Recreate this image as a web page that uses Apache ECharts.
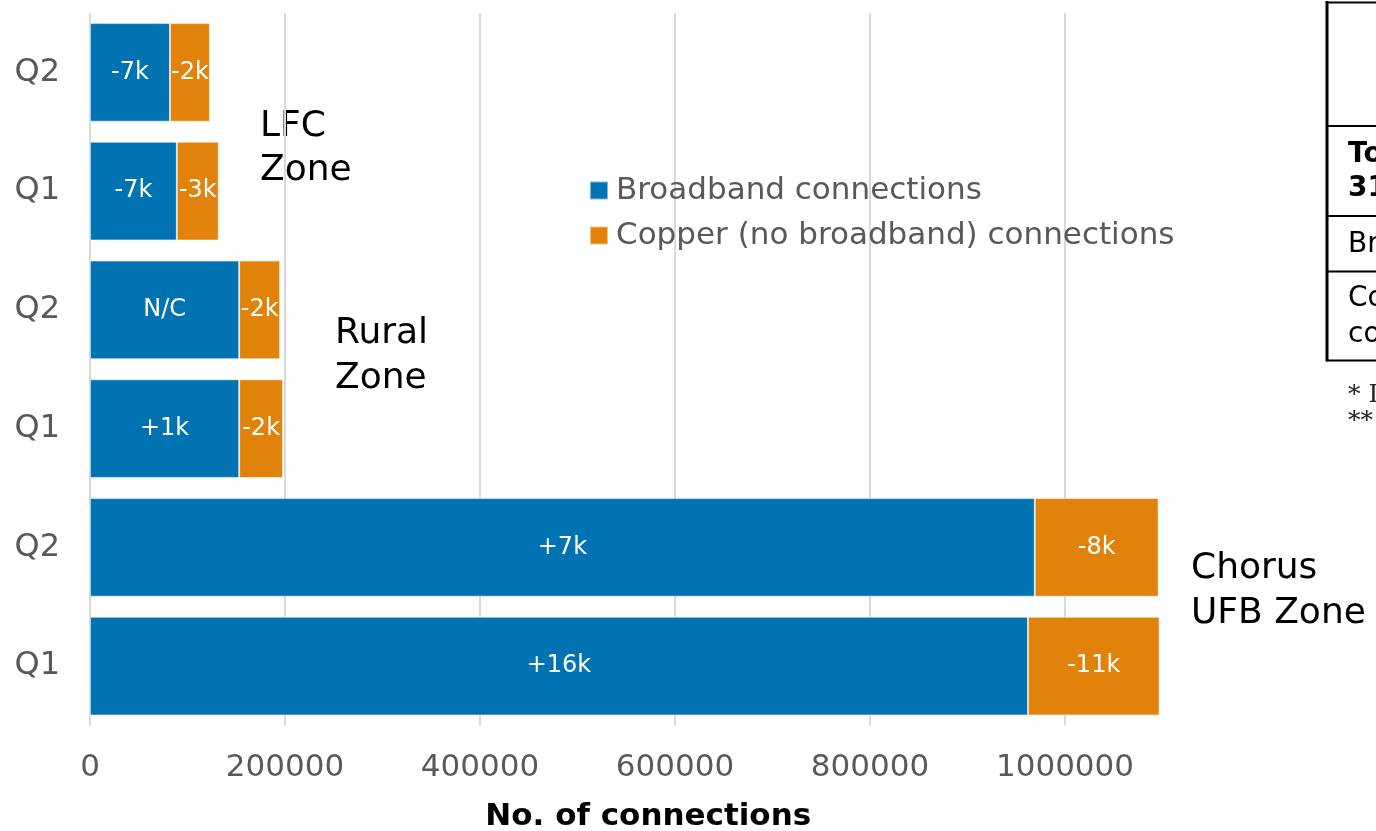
<!DOCTYPE html>
<html>
<head>
<meta charset="utf-8">
<title>Connections by zone</title>
<script src="https://cdn.jsdelivr.net/npm/echarts@6/dist/echarts.min.js"></script>
<style>
  html, body { margin: 0; padding: 0; background: #fff; }
  #chart { width: 1376px; height: 831px; }
</style>
</head>
<body>
<div id="chart"></div>
<script>
// rows listed top to bottom
const zones = ['LFC', 'LFC', 'Rural', 'Rural', 'Chorus', 'Chorus']
const quarters = ['Q2', 'Q1', 'Q2', 'Q1', 'Q2', 'Q1']
const broadband = [82000, 89000, 153000, 153000, 969000, 962000]
const copper = [41000, 43000, 42000, 45000, 127000, 135000]
const broadbandChange = ['-7k', '-7k', 'N/C', '+1k', '+7k', '+16k']
const copperChange = ['-2k', '-3k', '-2k', '-2k', '-8k', '-11k']
const xTicks = [0, 200000, 400000, 600000, 800000, 1000000]

const categories = zones.map((z, i) => z + ' ' + quarters[i])

const FONT = 'DejaVu Sans'
const BLUE = '#0173b2'
const ORANGE = '#e1820b'

const chart = echarts.init(document.getElementById('chart'))

function zoneText(text, x, y, lh) {
  return {
    type: 'text',
    x, y,
    style: {
      text,
      font: '36px "DejaVu Sans"',
      fill: '#000',
      lineHeight: lh,
      verticalAlign: 'middle'
    }
  }
}

function hLine(y) {
  return {
    type: 'line',
    shape: { x1: 1327, y1: y, x2: 1400, y2: y },
    style: { stroke: '#000', lineWidth: 2 }
  }
}

function cellText(text, y, bold) {
  return {
    type: 'text',
    x: 1348, y,
    style: {
      text,
      font: (bold ? 'bold ' : '') + '28px "DejaVu Sans"',
      fill: '#000',
      verticalAlign: 'middle'
    }
  }
}

chart.setOption({
  animation: false,
  textStyle: { fontFamily: FONT },
  grid: { left: 90, top: 13, right: 213.5, bottom: 105.5, outerBoundsMode: 'none' },
  legend: {
    orient: 'vertical',
    left: 589,
    top: 175,
    padding: 0,
    itemWidth: 18,
    itemHeight: 18,
    itemGap: 14,
    icon: 'rect',
    textStyle: { fontSize: 31, color: '#595959', padding: [0, 0, 0, 3] },
    data: ['Broadband connections', 'Copper (no broadband) connections']
  },
  xAxis: {
    type: 'value',
    min: xTicks[0],
    max: 1100000,
    interval: xTicks[1] - xTicks[0],
    axisLine: { show: false },
    axisTick: { show: false },
    axisLabel: {
      fontSize: 31,
      color: '#595959',
      margin: 27,
      showMaxLabel: false,
      formatter: (v) => (xTicks.includes(v) ? String(v) : '')
    },
    splitLine: {
      show: true,
      showMinLine: true,
      showMaxLine: false,
      lineStyle: { color: '#d9d9d9', width: 2 }
    },
    name: 'No. of connections',
    nameLocation: 'middle',
    nameGap: 76,
    nameTextStyle: {
      fontSize: 31,
      fontWeight: 'bold',
      color: '#000',
      padding: [0, 0, 0, 44]
    }
  },
  yAxis: {
    type: 'category',
    inverse: true,
    data: categories,
    axisLine: { show: false },
    axisTick: { show: false },
    axisLabel: {
      fontSize: 32,
      color: '#595959',
      margin: 30,
      formatter: (v) => v.split(' ')[1]
    }
  },
  series: [
    {
      name: 'Broadband connections',
      type: 'bar',
      stack: 'total',
      barCategoryGap: '17%',
      data: broadband,
      itemStyle: { color: BLUE, borderColor: 'rgba(255,255,255,0.5)', borderWidth: 1 },
      label: {
        show: true,
        position: 'inside',
        color: '#fff',
        fontSize: 24,
        formatter: (p) => broadbandChange[p.dataIndex]
      }
    },
    {
      name: 'Copper (no broadband) connections',
      type: 'bar',
      stack: 'total',
      barCategoryGap: '17%',
      data: copper,
      itemStyle: { color: ORANGE, borderColor: 'rgba(255,255,255,0.5)', borderWidth: 1 },
      label: {
        show: true,
        position: 'inside',
        color: '#fff',
        fontSize: 24,
        formatter: (p) => copperChange[p.dataIndex]
      }
    }
  ],
  graphic: [
    zoneText('LFC\nZone', 260, 149, 44),
    zoneText('Rural\nZone', 335, 356, 45),
    zoneText('Chorus\nUFB Zone', 1191, 591, 45),
    // summary table, cut off at the right edge
    {
      type: 'line',
      shape: { x1: 1327, y1: 1, x2: 1327, y2: 361.5 },
      style: { stroke: '#000', lineWidth: 3 }
    },
    hLine(2.5),
    hLine(126),
    hLine(216),
    hLine(271.5),
    hLine(360.5),
    cellText('Total as at', 155, true),
    cellText('31 December', 189, true),
    cellText('Broadband connections', 245, false),
    cellText('Copper (no broadband)', 299, false),
    cellText('connections', 335, false),
    {
      type: 'text',
      x: 1348, y: 395,
      style: { text: '* Includes all zones', font: '25px "DejaVu Serif"', fill: '#222', verticalAlign: 'middle' }
    },
    {
      type: 'text',
      x: 1348, y: 421,
      style: { text: '** Not comparable', font: '25px "DejaVu Serif"', fill: '#222', verticalAlign: 'middle' }
    }
  ]
})

window.addEventListener('resize', () => chart.resize())
</script>
</body>
</html>
